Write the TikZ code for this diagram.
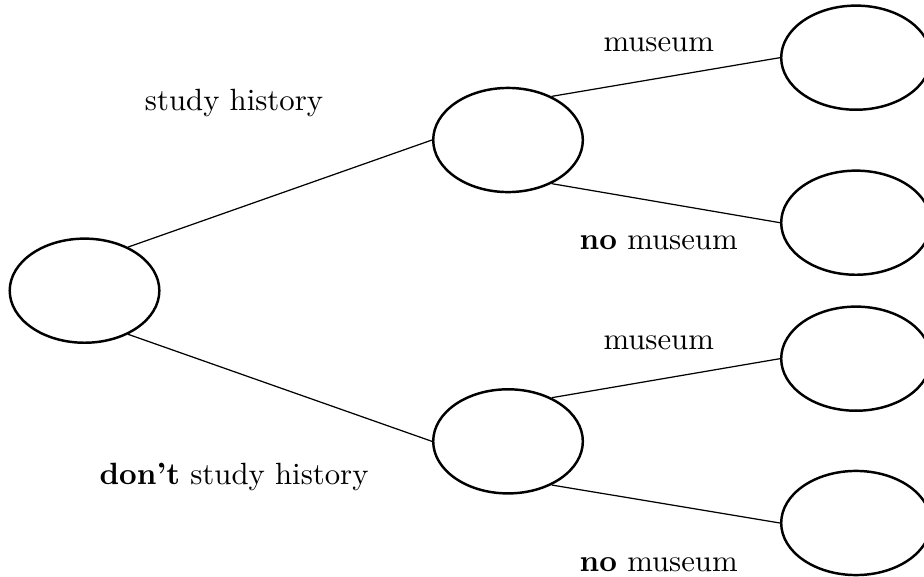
\documentclass[tikz,border=0pt]{standalone}
\usepackage{tikz}
\usetikzlibrary{positioning, shapes.geometric}

\begin{document}
\begin{tikzpicture}[state/.style={draw, thick, ellipse, minimum width=1.71cm, minimum height=1.19cm}]
	\useasboundingbox (-0.966,-3.272) rectangle (9.594,3.322);
	\node[state] (start) at (0,0) {};
	\node[state] (hist) at (4.84,1.722) {};
	\node[state] (nohist) at (4.84,-1.722) {};
	\node[state] (hist-m) at (8.817,2.663) {};
	\node[state] (hist-nm) at (8.817,0.777) {};
	\node[state] (nohist-m) at (8.817,-0.777) {};
	\node[state] (nohist-nm) at (8.817,-2.655) {};
	\path
	(start.45) edge (hist.west)
	(start.-45) edge (nohist.west)
	(hist.45) edge (hist-m.west)
	(hist.-45) edge (hist-nm.west)
	(nohist.45) edge (nohist-m.west)
	(nohist.-45) edge (nohist-nm.west)
	;
	\node (l-hist) at (1.709,2.15) {study history};
	\node (l-nohist) at (1.709,-2.13) {\textbf{don't} study history};
	\node (l-hist-m) at (6.562,2.81) {museum};
	\node (l-hist-nm) at (6.562,0.55) {\textbf{no} museum};
	\node (l-nohist-m) at (6.562,-0.6) {museum};
	\node (l-nohist-nm) at (6.562,-3.13) {\textbf{no} museum};
\end{tikzpicture}
\end{document}
